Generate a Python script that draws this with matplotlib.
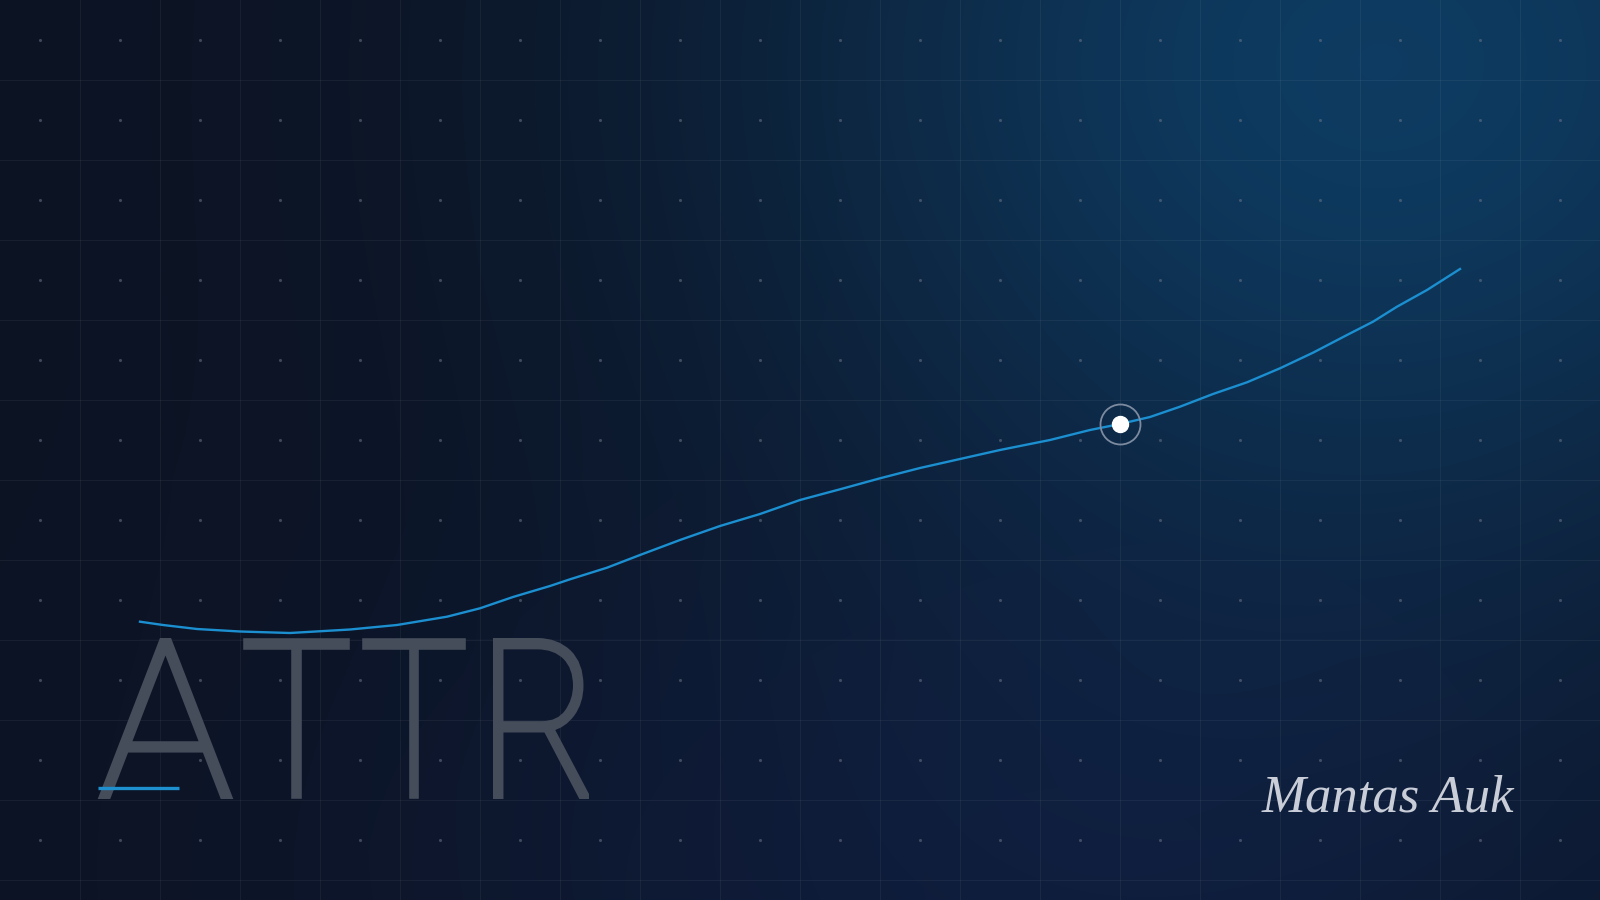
import numpy as np
import matplotlib
matplotlib.use("Agg")
import matplotlib.pyplot as plt
from matplotlib.textpath import TextPath
from matplotlib.patches import PathPatch
from matplotlib.font_manager import FontProperties
from matplotlib.transforms import Affine2D

# Series (x = position along the track, y = value above the baseline)
xs = [0, 23, 57, 100, 150, 210, 257, 307, 340, 373, 410, 430, 467, 500, 540,
      580, 620, 660, 700, 740, 780, 820, 860, 910, 950, 980, 1010, 1040, 1073,
      1107, 1140, 1173, 1207, 1233, 1257, 1287, 1320]
ys = [18.3, 15, 11, 8.5, 7, 10.5, 15, 23.3, 31.7, 43, 54, 60.7, 72.3, 85, 100,
      114, 126, 140, 150.7, 161.7, 172, 181, 190, 200, 210, 216, 223, 233.3, 246,
      257.7, 271.7, 287.3, 305, 318.3, 333.3, 350, 371]
highlight_x = 980
highlight_y = 216

title = "ATTR"
signature = "Mantas Auk"

W, H = 1600, 900
fig = plt.figure(figsize=(16, 9), dpi=100)

# background: full-figure axes in pixel coords
bg = fig.add_axes([0, 0, 1, 1])
bg.set_xlim(0, W)
bg.set_ylim(H, 0)
bg.axis("off")

gx, gy = np.meshgrid(np.arange(W), np.arange(H))
base = np.array([12, 19, 35], dtype=float)
glow = np.exp(-(((gx - 1380) / 640.0) ** 2 + ((gy - 60) / 540.0) ** 2))
glow2 = np.exp(-(((gx - 1050) / 650.0) ** 2 + ((gy - 900) / 380.0) ** 2))
img = base[None, None, :] + glow[..., None] * np.array([2, 40, 62]) \
    + glow2[..., None] * np.array([3, 8, 22])
bg.imshow(np.clip(img, 0, 255).astype(np.uint8), extent=(0, W, H, 0), aspect="auto", zorder=0)

# grid lines + dots
for gxl in range(80, W, 80):
  bg.axvline(gxl, color="white", alpha=0.05, lw=0.8, zorder=1)
for gyl in range(80, H, 80):
  bg.axhline(gyl, color="white", alpha=0.05, lw=0.8, zorder=1)
dx, dy = np.meshgrid(np.arange(40, W, 80), np.arange(40, H, 80))
bg.scatter(dx.ravel(), dy.ravel(), s=5, color="#6a7385", alpha=0.55, lw=0, zorder=1)

# big title, one letter at a time fitted into its box
# (thin face + outline stroke to get the light weight of the original)
fp = FontProperties(family=["Roboto", "Lato", "DejaVu Sans"], weight="light")
letter_boxes = [(99, 232), (243, 350), (362, 466), (493, 589)]
cap_top, cap_base = 638, 799
pad = 2.8
for ch, (x0, x1) in zip(title, letter_boxes):
  tp = TextPath((0, 0), ch, size=100, prop=fp)
  ext = tp.get_extents()
  sx = (x1 - x0 - 2 * pad) / ext.width
  sy = (cap_base - cap_top - 2 * pad) / ext.height
  tr = Affine2D().translate(-ext.x0, -ext.y0).scale(sx, -sy).translate(x0 + pad, cap_base - pad)
  bg.add_patch(PathPatch(tr.transform_path(tp), fc="#454d5a", ec="#454d5a",
                         lw=2 * pad * 0.72, joinstyle="miter", zorder=2))
bg.plot([98, 179], [788, 788], color="#1e90d0", lw=2.4, solid_capstyle="butt", zorder=3)

# signature
bg.text(1262, 812, signature, fontsize=38, family=["Liberation Serif", "DejaVu Serif"],
        style="italic", color="#c9cdd8", ha="left", va="baseline", zorder=2)

# data axes
ax = fig.add_axes([140 / W, (H - 640) / H, 1320 / W, 400 / H])
ax.set_xlim(0, 1320)
ax.set_ylim(0, 400)
ax.axis("off")
ax.axhline(0, color="#6f7f96", alpha=0.6, lw=0.8, zorder=3)
ax.plot(xs, ys, color="#1b8fd0", lw=1.7, clip_on=False, zorder=4)
ax.plot([highlight_x], [highlight_y], marker="o", ms=28.8, mfc="none",
        mec="#7d8ba0", mew=1.3, clip_on=False, zorder=5)
ax.plot([highlight_x], [highlight_y], marker="o", ms=11.5, mfc="white",
        mec="white", clip_on=False, zorder=6)

fig.savefig("out.png", dpi=100)
